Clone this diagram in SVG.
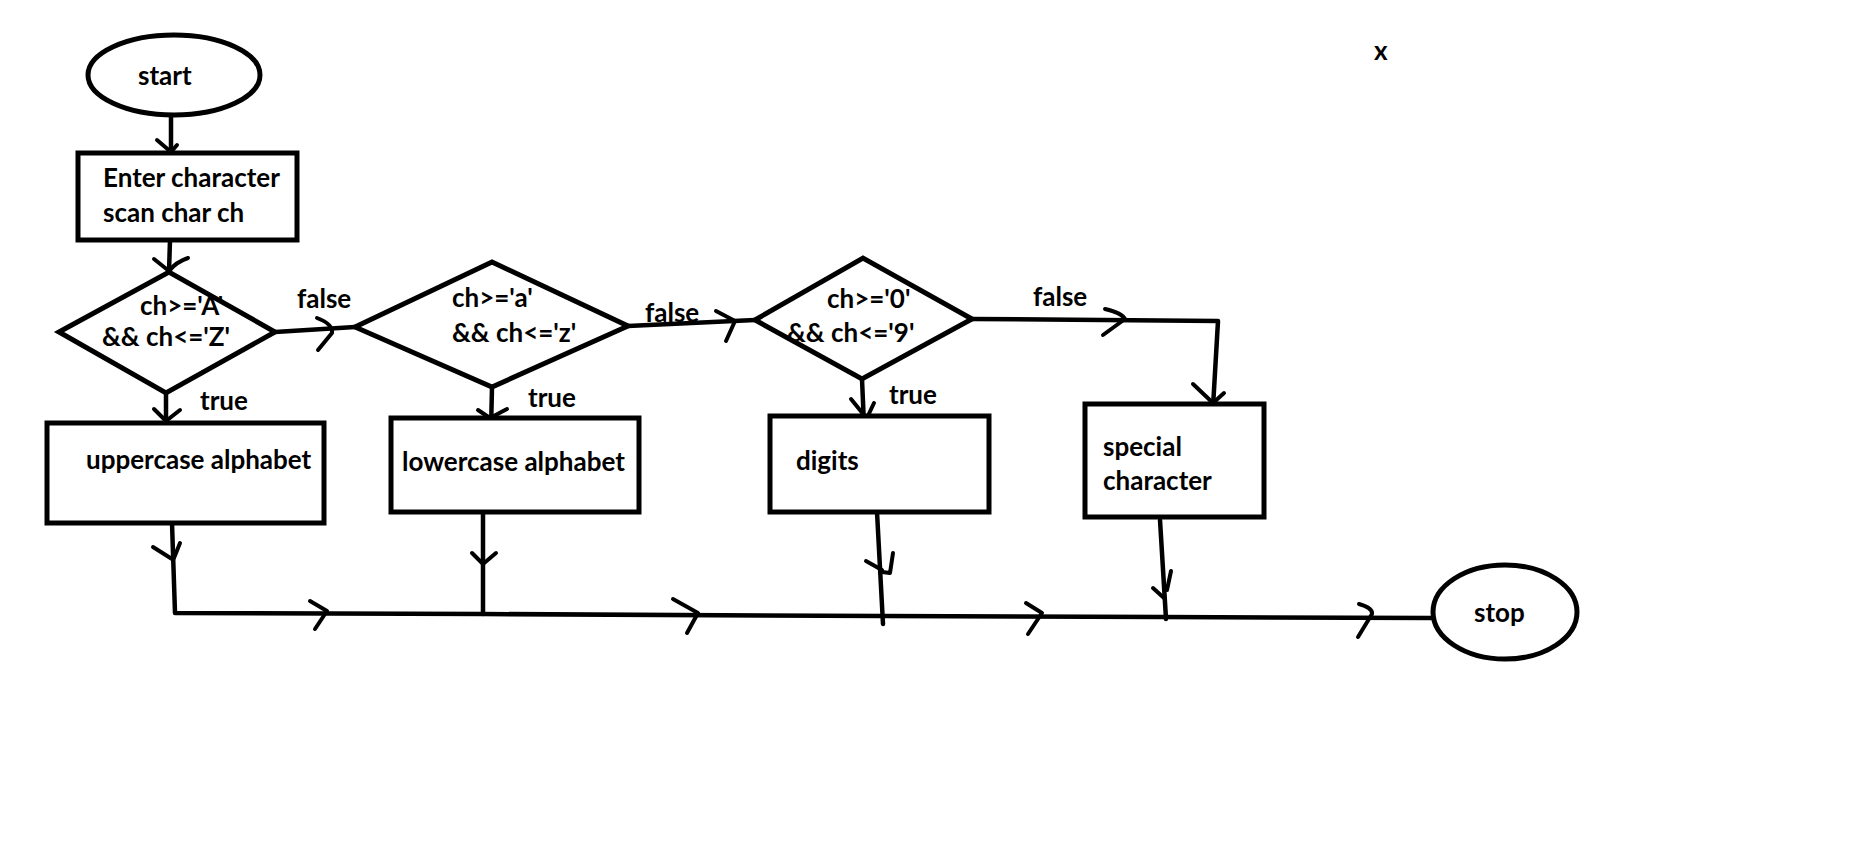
<svg xmlns="http://www.w3.org/2000/svg" width="1865" height="846" viewBox="0 0 1865 846">
<style>
.shape{fill:#fff;stroke:#000;stroke-width:5}
.ln{fill:none;stroke:#000;stroke-width:4.5;stroke-linejoin:round;stroke-linecap:round}
.ah{fill:none;stroke:#000;stroke-width:4;stroke-linecap:round;stroke-linejoin:round}
text{font-family:Lato,"Liberation Sans",sans-serif;font-weight:bold;font-size:26px;fill:#000}
</style>
<rect width="1865" height="846" fill="#fff"/>
<g id="connectors">
<path class="ln" d="M171,115 L171,153"/>
<path class="ah" d="M157,140 L171,152 L177,145"/>
<path class="ln" d="M170,240 L169,272"/>
<path class="ah" d="M154,259 L169,271 M188,258 Q176,262 169,271"/>
<path class="ln" d="M275,332 L355,327"/>
<path class="ah" d="M317,318 Q333,324 332,333 L318,350"/>
<path class="ln" d="M166,393 L166,423"/>
<path class="ah" d="M154,409 L166,421 L180,410"/>
<path class="ln" d="M628,326 L755,320"/>
<path class="ah" d="M716,311 L735,321 L726,341"/>
<path class="ln" d="M492,387 L491,430"/>
<path class="ah" d="M478,410 L490,418 L507,409"/>
<path class="ln" d="M862,379 L864,425"/>
<path class="ah" d="M851,399 L864,415 M874,403 L866,420"/>
<path class="ln" d="M972,319 L1218,321 L1213,407"/>
<path class="ah" d="M1105,309 Q1122,313 1125,319 L1103,335"/>
<path class="ah" d="M1193,384 L1213,403 L1224,393"/>
<path class="ln" d="M172,523 L175,613 L483,614 L883,616 L1163,617 L1433,618"/>
<path class="ln" d="M483,512 L483,614"/>
<path class="ln" d="M877,512 L883,624"/>
<path class="ln" d="M1160,520 L1166,619"/>
<path class="ah" d="M153,547 L172,559 M180,543 L174,558"/>
<path class="ah" d="M472,553 L483,564 L496,553"/>
<path class="ah" d="M866,561 L882,570 M893,553 L890,573 L882,572"/>
<path class="ah" d="M1153,588 L1164,598 M1171,571 L1167,590"/>
<path class="ah" d="M310,601 L327,611 L315,629"/>
<path class="ah" d="M673,599 L698,613 L687,633"/>
<path class="ah" d="M1026,603 L1042,613 L1028,634"/>
<path class="ah" d="M1359,604 Q1373,608 1372,614 L1358,637"/>
</g>
<g id="start">
<ellipse class="shape" cx="174" cy="75" rx="86" ry="40"/>
<text x="138" y="85">start</text>
</g>
<g id="input">
<rect class="shape" x="78" y="153" width="219" height="87"/>
<text x="103" y="187">Enter character</text>
<text x="103" y="222">scan char ch</text>
</g>
<g id="decision-upper">
<polygon class="shape" points="59,332 169,272 275,332 166,393"/>
<text x="140" y="315">ch&gt;='A'</text>
<text x="102" y="346">&amp;&amp; ch&lt;='Z'</text>
</g>
<g id="decision-lower">
<polygon class="shape" points="355,327 492,262 628,326 492,387"/>
<text x="452" y="307">ch&gt;='a'</text>
<text x="452" y="342">&amp;&amp; ch&lt;='z'</text>
</g>
<g id="decision-digit">
<polygon class="shape" points="755,320 863,258 972,319 862,379"/>
<text x="827" y="308">ch&gt;='0'</text>
<text x="787" y="342">&amp;&amp; ch&lt;='9'</text>
</g>
<g id="labels">
<text x="297" y="308">false</text>
<text x="200" y="410">true</text>
<text x="645" y="322">false</text>
<text x="528" y="407">true</text>
<text x="1033" y="306">false</text>
<text x="889" y="404">true</text>
<text x="1374" y="60">x</text>
</g>
<g id="uppercase">
<rect class="shape" x="47" y="423" width="277" height="100"/>
<text x="86" y="469">uppercase alphabet</text>
</g>
<g id="lowercase">
<rect class="shape" x="391" y="418" width="248" height="94"/>
<text x="402" y="471">lowercase alphabet</text>
</g>
<g id="digits">
<rect class="shape" x="770" y="416" width="219" height="96"/>
<text x="796" y="470">digits</text>
</g>
<g id="special">
<rect class="shape" x="1085" y="404" width="179" height="113"/>
<text x="1103" y="456">special</text>
<text x="1103" y="490">character</text>
</g>
<g id="stop">
<ellipse class="shape" cx="1505" cy="612" rx="72" ry="47"/>
<text x="1474" y="622">stop</text>
</g>
</svg>
